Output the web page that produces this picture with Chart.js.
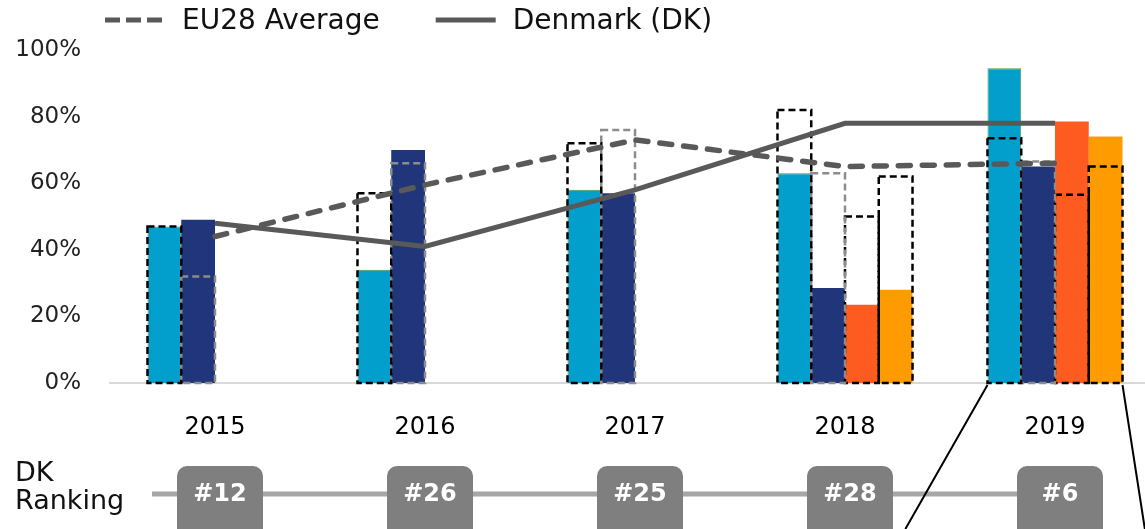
<!DOCTYPE html>
<html>
<head>
<meta charset="utf-8">
<script src="https://cdn.jsdelivr.net/npm/chart.js@4"></script>
<style>
  html, body { margin: 0; padding: 0; overflow: hidden; background: #fff; }
  canvas { display: block; }
</style>
</head>
<body>
<canvas id="chart" width="1200" height="529"></canvas>
<script>
const years = ['2015', '2016', '2017', '2018', '2019'];

// Denmark, per indicator (filled bars)
const dkA = [47, 34, 58, 63, 94.5];
const dkB = [49, 70, 57, 28.5, 65];
const dkC = [null, null, null, 23.5, 78.5];
const dkD = [null, null, null, 28, 74];

// EU28 average, per indicator (dashed outlines)
const euA = [47, 57, 72, 82, 73.5];
const euB = [32, 66, 76, 63, 66.5];
const euC = [null, null, null, 50, 56.5];
const euD = [null, null, null, 62, 65];

// overall lines
const euAverage = [44, 59.5, 73, 65, 66];
const denmark = [48, 41, 58, 78, 78];

const dkRanking = ['#12', '#26', '#25', '#28', '#6'];
const yTicks = [0, 20, 40, 60, 80, 100];

const GREY = '#595959';
Chart.defaults.font.family = 'DejaVu Sans';

// bars in chart.js have no dashed borders, so stroke them here
const dashedOutlines = {
  id: 'dashedOutlines',
  afterDatasetDraw(chart, args) {
    const ds = chart.data.datasets[args.index];
    if (!ds.outlineColor) return;
    const ctx = chart.ctx;
    ctx.save();
    ctx.strokeStyle = ds.outlineColor;
    ctx.lineWidth = 2.5;
    ctx.setLineDash([7, 4]);
    args.meta.data.forEach((bar, i) => {
      if (ds.data[i] == null) return;
      const p = bar.getProps(['x', 'y', 'base', 'width'], true);
      ctx.strokeRect(p.x - p.width / 2, p.y, p.width, p.base - p.y);
    });
    ctx.restore();
  }
};

const topLegend = {
  id: 'topLegend',
  afterDraw(chart) {
    const ctx = chart.ctx;
    ctx.save();
    ctx.font = '28px "DejaVu Sans"';
    ctx.textBaseline = 'middle';
    ctx.fillStyle = '#111';
    let x = 105;
    const y = 20;
    chart.data.datasets.filter(d => d.type === 'line').forEach(d => {
      ctx.strokeStyle = d.borderColor;
      ctx.lineWidth = 5;
      ctx.lineCap = 'butt';
      ctx.setLineDash(d.borderDash && d.borderDash.length ? [15, 6] : []);
      ctx.beginPath();
      ctx.moveTo(x, y);
      ctx.lineTo(x + 60, y);
      ctx.stroke();
      ctx.fillText(d.label, x + 77, y + 2);
      x += 77 + ctx.measureText(d.label).width + 56;
    });
    ctx.restore();
  }
};

const rankingRow = {
  id: 'rankingRow',
  afterDraw(chart) {
    const ctx = chart.ctx;
    const xs = chart.scales.x;
    const H = chart.height;
    const yLine = 494;
    ctx.save();

    // zoom callout lines from the 2019 group
    const first = chart.getDatasetMeta(0).data[4];
    const last = chart.getDatasetMeta(3).data[4];
    const base = chart.scales.y.getPixelForValue(0);
    const left = first.x - first.width / 2;
    const right = last.x + last.width / 2;

    ctx.fillStyle = '#111';
    ctx.font = '27px "DejaVu Sans"';
    ctx.textAlign = 'left';
    ctx.textBaseline = 'alphabetic';
    ctx.fillText('DK', 15, 481);
    ctx.fillText('Ranking', 15, 509);

    ctx.strokeStyle = '#a6a6a6';
    ctx.lineWidth = 5;
    ctx.beginPath();
    ctx.moveTo(152, yLine);
    ctx.lineTo(xs.getPixelForValue(dkRanking.length - 1), yLine);
    ctx.stroke();

    ctx.strokeStyle = '#000';
    ctx.lineWidth = 2;
    ctx.beginPath();
    ctx.moveTo(left, base + 2);
    ctx.lineTo(left - 0.5625 * (H - base), H);
    ctx.moveTo(right, base + 2);
    ctx.lineTo(right + 0.153 * (H - base), H);
    ctx.stroke();

    dkRanking.forEach((r, i) => {
      const cx = xs.getPixelForValue(i) + 5;
      ctx.fillStyle = '#7f7f7f';
      ctx.beginPath();
      ctx.roundRect(cx - 43, 466, 86, 75, 10);
      ctx.fill();
      ctx.fillStyle = '#fff';
      ctx.font = 'bold 24px "DejaVu Sans"';
      ctx.textAlign = 'center';
      ctx.textBaseline = 'middle';
      ctx.fillText(r, cx, yLine + 1);
    });
    ctx.restore();
  }
};

// filled bar and its EU28 outline share a stack id, so they sit in the same slot
function filled(label, data, stack, color, border) {
  return {
    type: 'bar', label, data, stack, order: 2,
    backgroundColor: color,
    borderColor: border || color,
    borderWidth: border ? 1 : 0
  };
}
function outline(label, data, stack, color) {
  return {
    type: 'bar', label, data, stack, order: 1,
    backgroundColor: 'rgba(0,0,0,0)', borderWidth: 0,
    outlineColor: color
  };
}

new Chart(document.getElementById('chart'), {
  data: {
    labels: years,
    datasets: [
      filled('DK indicator A', dkA, 'A', '#029fcd', '#5e8f3c'),
      filled('DK indicator B', dkB, 'B', '#21367a'),
      filled('DK indicator C', dkC, 'C', '#fe5b21'),
      filled('DK indicator D', dkD, 'D', '#fe9b00'),
      outline('EU28 indicator A', euA, 'A', '#000'),
      outline('EU28 indicator B', euB, 'B', '#8c8c8c'),
      outline('EU28 indicator C', euC, 'C', '#000'),
      outline('EU28 indicator D', euD, 'D', '#000'),
      {
        type: 'line', label: 'EU28 Average', data: euAverage, order: 0,
        borderColor: GREY, borderWidth: 5.5, borderDash: [12, 12], borderCapStyle: 'round',
        pointRadius: 0, tension: 0
      },
      {
        type: 'line', label: 'Denmark (DK)', data: denmark, order: 0,
        borderColor: GREY, borderWidth: 5, borderDash: [],
        pointRadius: 0, tension: 0
      }
    ]
  },
  options: {
    responsive: false,
    animation: false,
    layout: { padding: { top: 50, right: 40, left: 0, bottom: 0 } },
    datasets: { bar: { categoryPercentage: 0.643, barPercentage: 1 } },
    plugins: { legend: { display: false }, tooltip: { enabled: false } },
    scales: {
      x: {
        type: 'category', offset: true,
        grid: { display: false, drawTicks: false },
        border: { color: '#d9d9d9', width: 2 },
        ticks: { color: '#000', font: { size: 24 }, padding: 30 },
        afterFit(s) { s.height = 146; }
      },
      y: {
        min: 0, max: 100, stacked: false,
        grid: { display: false, drawTicks: false },
        border: { display: false },
        ticks: { color: '#222', font: { size: 23 }, padding: 29, callback: v => v + '%' },
        afterBuildTicks(s) { s.ticks = yTicks.map(v => ({ value: v })); },
        afterFit(s) { s.width = 110; }
      }
    }
  },
  plugins: [dashedOutlines, topLegend, rankingRow]
});
</script>
</body>
</html>
